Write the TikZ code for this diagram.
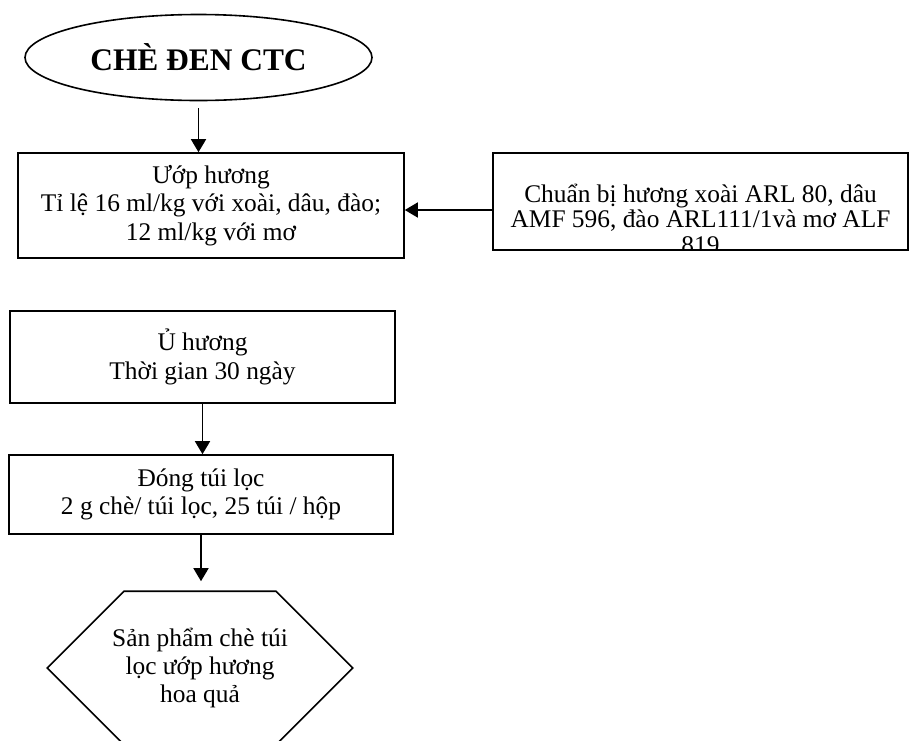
\documentclass[tikz,border=0pt]{standalone}
\usepackage{fontspec}
\setmainfont{Liberation Serif}
\usetikzlibrary{arrows.meta,shapes,positioning,calc}

\begin{document}
\begin{tikzpicture}[
    x=0.5pt,y=-0.5pt,
    line width=0.8pt,
    stepbox/.style={rectangle,draw,align=center,inner sep=0pt,font=\fontsize{12.7}{14.2}\selectfont},
    arrow/.style={-{Triangle[width=7.5pt,length=6.5pt]}}
]
    \useasboundingbox (0,0) rectangle (910,740);

    % Raw tea and flavouring
    \node[ellipse,draw,minimum width=173.5pt,minimum height=43pt,inner sep=0pt,font=\fontsize{15.7}{18}\selectfont\bfseries] (cte) at (198.5,57.5) {CHÈ ĐEN CTC};
    \node[stepbox,minimum width=193pt,minimum height=52.5pt] (uop) at (211,205.5) {Ướp hương\\Tỉ lệ 16 ml/kg với xoài, dâu, đào;\\12 ml/kg với mơ};
    \node[stepbox,minimum width=207.5pt,minimum height=48.5pt] (prep) at (700.5,201.5) {};
    \begin{scope}
        \clip (prep.south west) rectangle (prep.north east);
        \node[stepbox,draw=none,anchor=north,font=\fontsize{12.7}{12.7}\selectfont] (preptext) at (700.5,183) {Chuẩn bị hương xoài ARL 80, dâu\\AMF 596, đào ARL111/1và mơ ALF\\819};
    \end{scope}
    \draw[arrow] ([yshift=-3.5pt]cte.south) -- (cte.south |- uop.north);
    \draw[arrow] ([yshift=-4.25pt]prep.west) -- ([yshift=-4.25pt]prep.west -| uop.east);

    % Curing and packing
    \node[stepbox,minimum width=192.5pt,minimum height=46pt] (ui) at (202.5,357) {Ủ hương\\Thời gian 30 ngày};
    \node[stepbox,minimum width=192pt,minimum height=39.5pt] (dong) at (201,494.5) {Đóng túi lọc\\2 g chè/ túi lọc, 25 túi / hộp};
    \draw[arrow] (ui.south) -- (ui.south |- dong.north);

    % Product
    \node[stepbox,draw=none,minimum width=152pt,minimum height=76pt] (prod) at (200,668) {Sản phẩm chè túi\\lọc ướp hương\\hoa quả};
    \draw (prod.west) -- ([xshift=-38pt]prod.north) -- ([xshift=38pt]prod.north) -- (prod.east) -- ([xshift=38pt]prod.south) -- ([xshift=-38pt]prod.south) -- cycle;
    \draw[arrow] (dong.south) -- ([yshift=5pt]dong.south |- prod.north);
\end{tikzpicture}
\end{document}
